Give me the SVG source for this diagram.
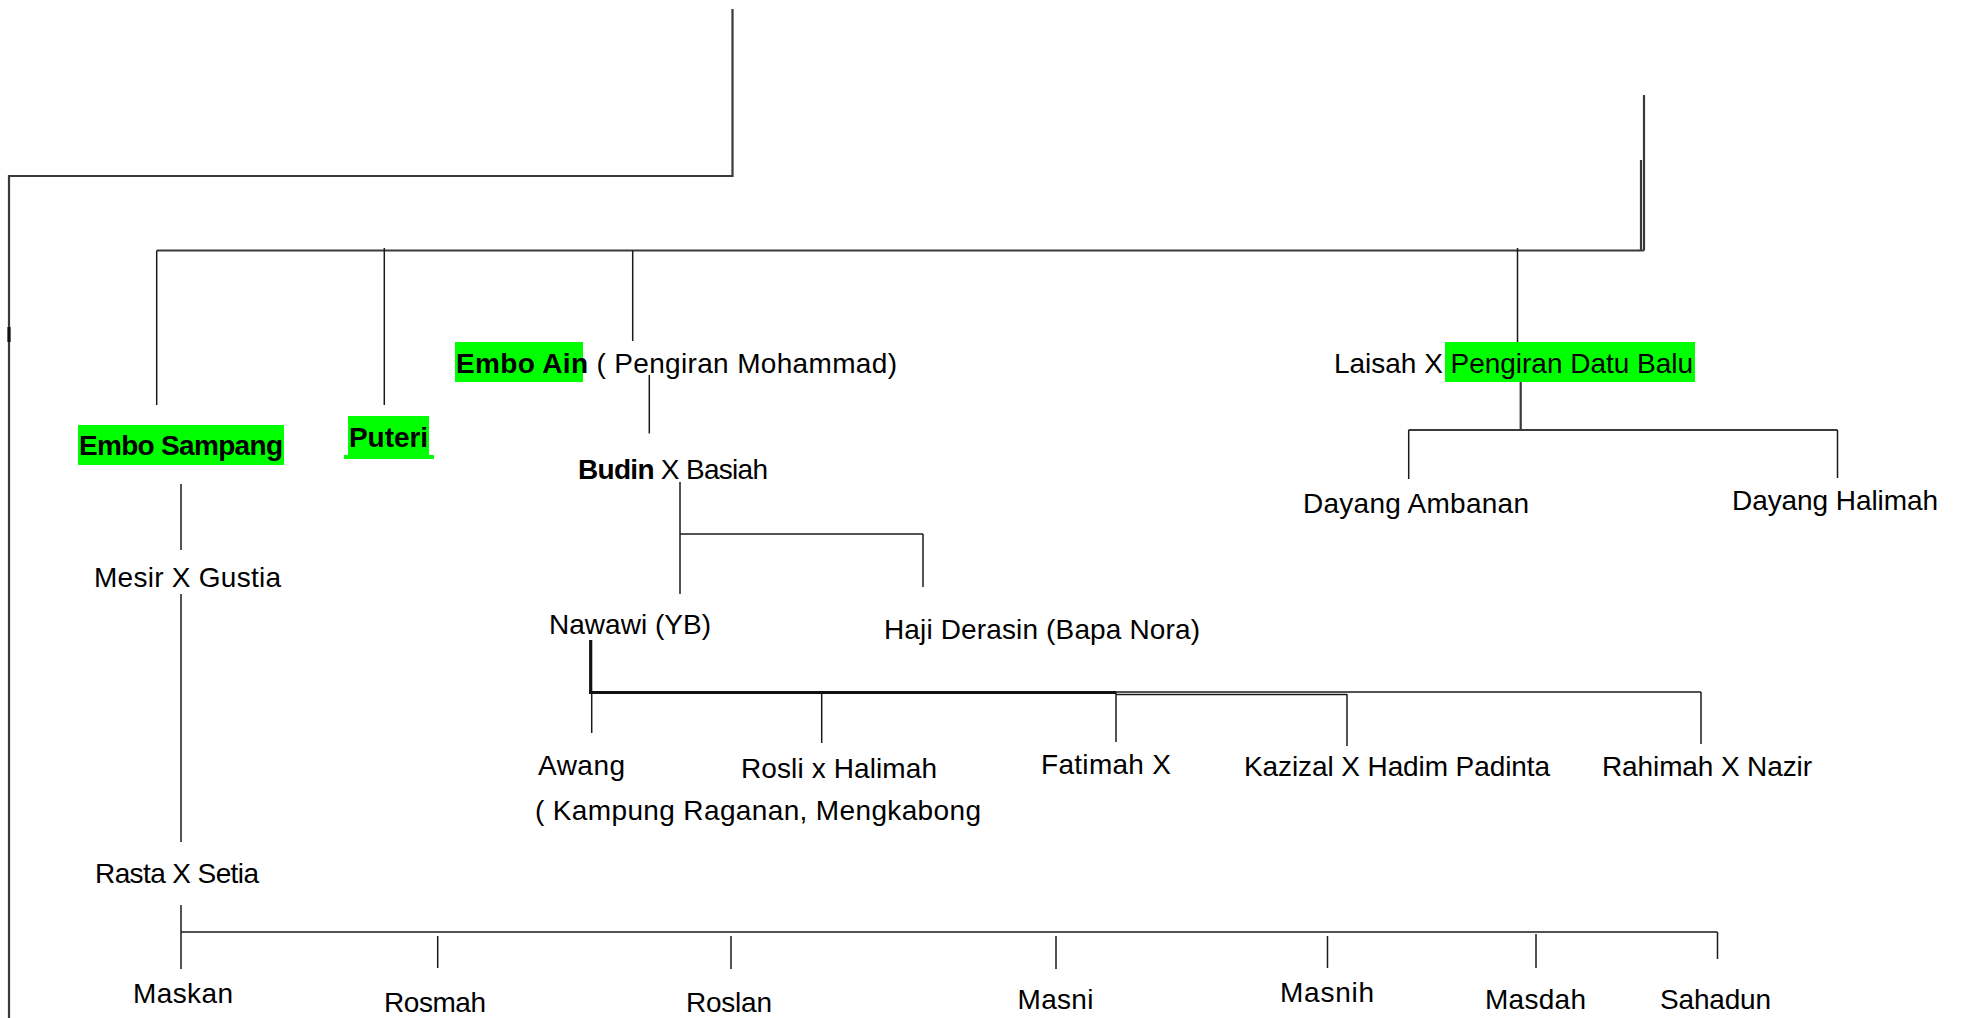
<svg xmlns="http://www.w3.org/2000/svg" width="1963" height="1018" viewBox="0 0 1963 1018">
<style>
  .bg{fill:#ffffff}
  .t{font-family:"Liberation Sans",Arial,sans-serif;font-size:28px;fill:#000000}
  .b{font-weight:bold}
  .hl{fill:#00ff00}
  .c{stroke:#1a1a1a;stroke-width:1.5;fill:none}
  .g{stroke:#3a3a3a;stroke-width:2.2;fill:none}
  .k{stroke:#111111;stroke-width:3.2;fill:none}
</style>
<rect class="bg" x="0" y="0" width="1963" height="1018"/>
<g id="connectors">
  <polyline class="g" points="732.5,9 732.5,176 9,176 9,1018"/>
  <line class="k" x1="9" y1="327" x2="9" y2="342"/>
  <line class="g" x1="1644" y1="95" x2="1644" y2="250.5"/>
  <line class="g" x1="1641" y1="160" x2="1641" y2="250.5"/>
  <line class="g" x1="156.7" y1="250.5" x2="1644" y2="250.5"/>
  <line class="c" x1="156.7" y1="250.5" x2="156.7" y2="405"/>
  <line class="c" x1="384.3" y1="248" x2="384.3" y2="405"/>
  <line class="c" x1="632.7" y1="250.5" x2="632.7" y2="341"/>
  <line class="c" x1="1517.5" y1="248" x2="1517.5" y2="342"/>
  <line class="g" x1="1520.7" y1="382" x2="1520.7" y2="430"/>
  <line class="g" x1="1408.7" y1="430" x2="1837.5" y2="430"/>
  <line class="c" x1="1408.7" y1="430" x2="1408.7" y2="479"/>
  <line class="c" x1="1837.5" y1="430" x2="1837.5" y2="478"/>
  <line class="c" x1="181" y1="484" x2="181" y2="550"/>
  <line class="c" x1="181" y1="594" x2="181" y2="842"/>
  <line class="c" x1="181" y1="905" x2="181" y2="969"/>
  <line class="c" x1="649.3" y1="375" x2="649.3" y2="433.5"/>
  <line class="c" x1="680" y1="482" x2="680" y2="594"/>
  <line class="c" x1="680" y1="534" x2="923" y2="534"/>
  <line class="c" x1="923" y1="534" x2="923" y2="587"/>
  <line class="k" x1="590.7" y1="640" x2="590.7" y2="693.5"/>
  <line class="k" x1="589" y1="692.5" x2="1116" y2="692.5"/>
  <line class="c" x1="1116" y1="692" x2="1701" y2="692"/>
  <line class="c" x1="1116" y1="694.5" x2="1347" y2="694.5"/>
  <line class="c" x1="591.7" y1="693" x2="591.7" y2="733"/>
  <line class="c" x1="821.7" y1="692" x2="821.7" y2="743"/>
  <line class="c" x1="1116" y1="692" x2="1116" y2="742"/>
  <line class="c" x1="1347" y1="694" x2="1347" y2="746"/>
  <line class="c" x1="1701" y1="692" x2="1701" y2="744"/>
  <line class="c" x1="181" y1="932" x2="1717.5" y2="932"/>
  <line class="c" x1="437.7" y1="936" x2="437.7" y2="968"/>
  <line class="c" x1="731" y1="936" x2="731" y2="969"/>
  <line class="c" x1="1056" y1="936" x2="1056" y2="969"/>
  <line class="c" x1="1327.5" y1="936" x2="1327.5" y2="968"/>
  <line class="c" x1="1536" y1="934" x2="1536" y2="968"/>
  <line class="c" x1="1717.5" y1="932" x2="1717.5" y2="959"/>
</g>
<g id="node-embo-sampang">
  <rect class="hl" x="78" y="425" width="206" height="40"/>
  <text class="t b" x="79" y="455" textLength="204">Embo Sampang</text>
</g>
<g id="node-puteri">
  <rect class="hl" x="348" y="416" width="81" height="39"/>
  <rect class="hl" x="344" y="455" width="90" height="4"/>
  <text class="t b" x="349" y="446.5" textLength="79">Puteri</text>
</g>
<g id="node-embo-ain">
  <rect class="hl" x="455" y="342" width="128" height="40"/>
  <text class="t" x="456" y="372.5" textLength="441"><tspan class="b">Embo Ain</tspan> ( Pengiran Mohammad)</text>
</g>
<g id="node-laisah">
  <rect class="hl" x="1445" y="342" width="250" height="40"/>
  <text class="t" x="1334" y="372.5" textLength="359">Laisah X Pengiran Datu Balu</text>
</g>
<g id="node-dayang-ambanan">
  <text class="t" x="1303" y="513" textLength="226">Dayang Ambanan</text>
</g>
<g id="node-dayang-halimah">
  <text class="t" x="1732" y="510" textLength="206">Dayang Halimah</text>
</g>
<g id="node-budin">
  <text class="t" x="578" y="478.5" textLength="190"><tspan class="b">Budin</tspan> X Basiah</text>
</g>
<g id="node-mesir">
  <text class="t" x="94" y="587" textLength="187">Mesir X Gustia</text>
</g>
<g id="node-nawawi">
  <text class="t" x="549" y="633.5" textLength="162">Nawawi (YB)</text>
</g>
<g id="node-haji-derasin">
  <text class="t" x="884" y="639" textLength="316">Haji Derasin (Bapa Nora)</text>
</g>
<g id="node-awang">
  <text class="t" x="538" y="775" textLength="87">Awang</text>
  <text class="t" x="535" y="820" textLength="446">( Kampung Raganan, Mengkabong</text>
</g>
<g id="node-rosli">
  <text class="t" x="741" y="778" textLength="196">Rosli x Halimah</text>
</g>
<g id="node-fatimah">
  <text class="t" x="1041" y="774" textLength="130">Fatimah X</text>
</g>
<g id="node-kazizal">
  <text class="t" x="1244" y="776" textLength="306">Kazizal X Hadim Padinta</text>
</g>
<g id="node-rahimah">
  <text class="t" x="1602" y="776" textLength="210">Rahimah X Nazir</text>
</g>
<g id="node-rasta">
  <text class="t" x="95" y="883" textLength="164">Rasta X Setia</text>
</g>
<g id="node-maskan"><text class="t" x="133" y="1002.5" textLength="100">Maskan</text></g>
<g id="node-rosmah"><text class="t" x="384" y="1011.5" textLength="102">Rosmah</text></g>
<g id="node-roslan"><text class="t" x="686" y="1012" textLength="86">Roslan</text></g>
<g id="node-masni"><text class="t" x="1017.5" y="1009" textLength="76">Masni</text></g>
<g id="node-masnih"><text class="t" x="1280" y="1002" textLength="94">Masnih</text></g>
<g id="node-masdah"><text class="t" x="1485" y="1009" textLength="101">Masdah</text></g>
<g id="node-sahadun"><text class="t" x="1660" y="1009" textLength="111">Sahadun</text></g>
</svg>
